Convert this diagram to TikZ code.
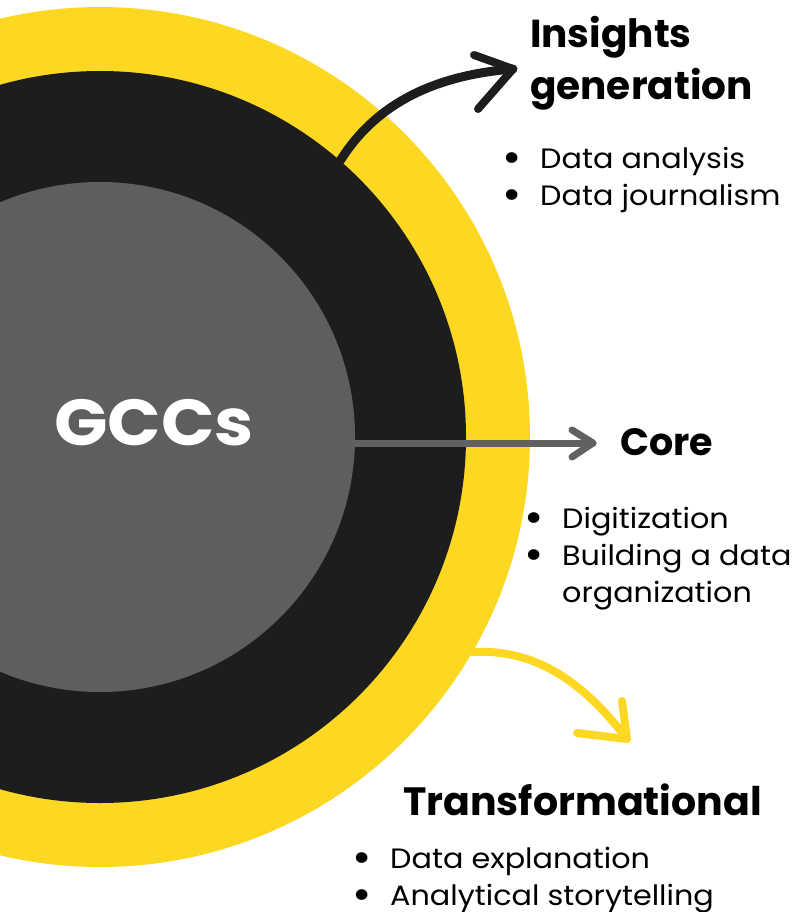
\documentclass[tikz,border=0pt]{standalone}
\usepackage{fontspec}
\setmainfont{Poppins}
\newfontfamily\widefont[FakeStretch=1.08]{Poppins}
\usetikzlibrary{calc}
\definecolor{ringyellow}{HTML}{FDD823}
\definecolor{ringblack}{HTML}{1D1D1D}
\definecolor{coregrey}{HTML}{5E5E5E}
\definecolor{arrowgrey}{HTML}{616161}
% bullet followed by the item text, and the indent for a continued item
\newcommand{\listitem}[1]{\makebox[38pt][l]{\smash{\raisebox{-3.5pt}{\scalebox{1.55}{\textbullet}}}}#1}
\newcommand{\listcont}[1]{\hspace*{38pt}#1}
\begin{document}
\begin{tikzpicture}[x=1pt,y=-1pt,
  disc/.style={circle, inner sep=0pt, minimum size=#1},
  heading/.style={anchor=base west, inner sep=0pt, font=\bfseries\fontsize{38}{46}\selectfont},
  itemlist/.style={anchor=north west, inner sep=0pt, align=left, font=\widefont\fontsize{28}{37}\selectfont},
  brush/.style={line width=#1, line cap=round, line join=round},
]
\useasboundingbox (0,0) rectangle (795,912);

% the three nested rings
\begin{scope}
  \clip (0,0) rectangle (795,912);
  \node[disc=860pt, fill=ringyellow] (outer) at (100,437) {};
  \node[disc=732pt, fill=ringblack] (middle) at (100,437) {};
  \node[disc=510pt, fill=coregrey] (inner) at (100,437) {};
\end{scope}
\node[anchor=base, inner sep=0pt, text=white, font=\widefont\bfseries\fontsize{65}{70}\selectfont] (gccs) at (154,445) {GCCs};

% core arrow
\coordinate (coretip) at (593,443);
\draw[brush=7pt, arrowgrey] ([yshift=-6pt]inner.east) -- (coretip);
\draw[brush=7pt, arrowgrey] ($(coretip)+(-21,-13)$) -- (coretip) -- ($(coretip)+(-21,14)$);

% insights arrow
\coordinate (insighttip) at (513,69);
\draw[brush=9pt, ringblack] (middle.49) .. controls (372,110) and (425,76) .. (insighttip);
\draw[brush=8pt, ringblack] ($(insighttip)+(-39,-14)$) -- (insighttip) -- ($(insighttip)+(-35,40)$);

% transformational arrow
\coordinate (transtip) at (627,739);
\draw[brush=8pt, ringyellow] (outer.-30) .. controls (540,648) and (588,688) .. (transtip);
\draw[brush=8pt, ringyellow] ($(transtip)+(-5,-38)$) -- (transtip) -- ($(transtip)+(-50,-6)$);

% insights generation
\node[heading, font=\bfseries\fontsize{39}{46}\selectfont] (insightsA) at (530,48) {Insights};
\node[heading, font=\bfseries\fontsize{39}{46}\selectfont] (insightsB) at (530,100) {generation};
\node[itemlist] (inslist) at (502,147) {\listitem{Data analysis}\\\listitem{Data journalism}};

% core
\node[heading] (core) at (620,455) {Core};
\node[itemlist] (corelist) at (524,507) {\listitem{Digitization}\\\listitem{Building a data}\\\listcont{organization}};

% transformational
\node[heading, font=\bfseries\fontsize{39.5}{46}\selectfont] (trans) at (403,815) {Transformational};
\node[itemlist] (translist) at (352,847) {\listitem{Data explanation}\\\listitem{Analytical storytelling}};
\end{tikzpicture}
\end{document}
